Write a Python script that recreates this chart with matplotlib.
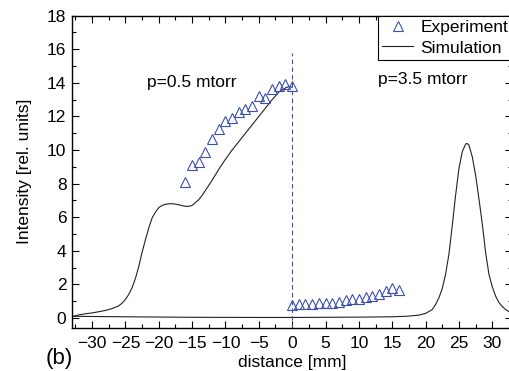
import matplotlib
matplotlib.use('Agg')
import matplotlib.pyplot as plt
from matplotlib.ticker import MultipleLocator

plt.rcParams['font.family'] = ['Liberation Sans', 'DejaVu Sans']
plt.rcParams['font.size'] = 12

# Experiment, p=0.5 mtorr (left side)
exp_x_low = [-16, -15, -14, -13, -12, -11, -10, -9, -8, -7, -6, -5, -4, -3, -2, -1, 0]
exp_y_low = [8.12, 9.12, 9.26, 9.91, 10.65, 11.24, 11.72, 11.93, 12.24, 12.45, 12.62,
             13.23, 13.09, 13.63, 13.8, 13.95, 13.8]

# Experiment, p=3.5 mtorr (right side)
exp_x_high = [0, 1, 2, 3, 4, 5, 6, 7, 8, 9, 10, 11, 12, 13, 14, 15, 16]
exp_y_high = [0.78, 0.82, 0.84, 0.86, 0.88, 0.9, 0.92, 0.95, 1.05, 1.1, 1.15, 1.22,
              1.3, 1.42, 1.6, 1.78, 1.68]

# Simulation, p=0.5 mtorr
sim_x_low = [-33, -32, -31, -30, -29, -28, -27, -26, -25.5, -25, -24.5, -24, -23.5, -23,
             -22.5, -22, -21.5, -21, -20.5, -20, -19.5, -19, -18.5, -18, -17.5, -17,
             -16.5, -16, -15.5, -15, -14.5, -14, -13.5, -13, -12, -11, -10, -9, -8, -7,
             -6, -5, -4, -3, -2, -1, -0.5, 0]
sim_y_low = [0.08, 0.18, 0.25, 0.3, 0.37, 0.45, 0.56, 0.72, 0.88, 1.1, 1.4, 1.8, 2.35, 3.05,
             3.9, 4.65, 5.35, 5.95, 6.3, 6.57, 6.7, 6.77, 6.8, 6.8, 6.78, 6.74,
             6.69, 6.65, 6.65, 6.7, 6.87, 7.05, 7.3, 7.6, 8.2, 8.85, 9.45, 10.0, 10.5, 11.0,
             11.5, 12.0, 12.5, 13.0, 13.45, 13.7, 13.78, 13.74]

# Simulation, p=3.5 mtorr
sim_x_high = [-33, -25, -15, -5, 0, 5, 10, 15, 17, 18, 19, 20, 21, 21.5, 22, 22.5, 23, 23.5,
              24, 24.5, 25, 25.5, 26, 26.2, 26.5, 27, 27.5, 28, 28.5, 29, 29.5, 30, 30.5,
              31, 31.5, 32, 32.5, 33]
sim_y_high = [0.1, 0.07, 0.04, 0.03, 0.03, 0.04, 0.05, 0.07, 0.1, 0.13, 0.17, 0.27, 0.5, 0.8,
              1.2, 1.75, 2.6, 3.8, 5.5, 7.3, 8.9, 9.9, 10.35, 10.4, 10.3, 9.6, 8.5, 7.1,
              5.6, 3.9, 2.6, 1.85, 1.3, 0.92, 0.68, 0.5, 0.38, 0.3]

blue = '#3a4fb0'

fig = plt.figure(figsize=(5.1, 3.71), dpi=100)
ax = fig.add_axes([0.1412, 0.1167, 0.8633, 0.841])

ax.plot(sim_x_low, sim_y_low, color='#222222', lw=0.8, label='Simulation')
ax.plot(sim_x_high, sim_y_high, color='#222222', lw=0.8)
ax.plot(exp_x_low, exp_y_low, ls='none', marker='^', ms=7, mfc='none', mec=blue, mew=0.8,
        label='Experiment')
ax.plot(exp_x_high, exp_y_high, ls='none', marker='^', ms=7, mfc='none', mec=blue, mew=0.8)
ax.vlines(0, -0.58, 15.8, colors=blue, linestyles=(0, (4, 3)), lw=0.8)

ax.set_xlim(-33, 33)
ax.set_ylim(-0.58, 18)
ax.xaxis.set_major_locator(MultipleLocator(5))
ax.xaxis.set_minor_locator(MultipleLocator(2.5))
ax.yaxis.set_major_locator(MultipleLocator(2))
ax.yaxis.set_minor_locator(MultipleLocator(1))
ax.tick_params(which='both', direction='in', top=True, right=True, width=0.8)
ax.tick_params(which='major', length=5, labelsize=12.5, pad=4)
ax.tick_params(axis='x', which='major', pad=6)
ax.tick_params(which='minor', length=3)
for s in ax.spines.values():
    s.set_linewidth(1.0)

ax.set_xlabel('distance [mm]', fontsize=12.5, labelpad=3)
ax.set_ylabel('Intensity [rel. units]', fontsize=12.5, labelpad=11)

ax.text(-21.7, 14.0, 'p=0.5 mtorr', fontsize=12.5, va='center')
ax.text(12.8, 14.2, 'p=3.5 mtorr', fontsize=12.5, va='center')
fig.text(0.09, 0.035, '(b)', fontsize=16, va='center')

handles, labels = ax.get_legend_handles_labels()
leg = ax.legend([handles[1], handles[0]], [labels[1], labels[0]], loc='upper right',
                bbox_to_anchor=(1.0, 1.0), borderaxespad=0, fancybox=False,
                edgecolor='black', framealpha=1, fontsize=12.5, handlelength=1.8,
                borderpad=0.25, labelspacing=0.3, handletextpad=0.4)
leg.get_frame().set_linewidth(0.8)

fig.savefig('out.png', dpi=100)
